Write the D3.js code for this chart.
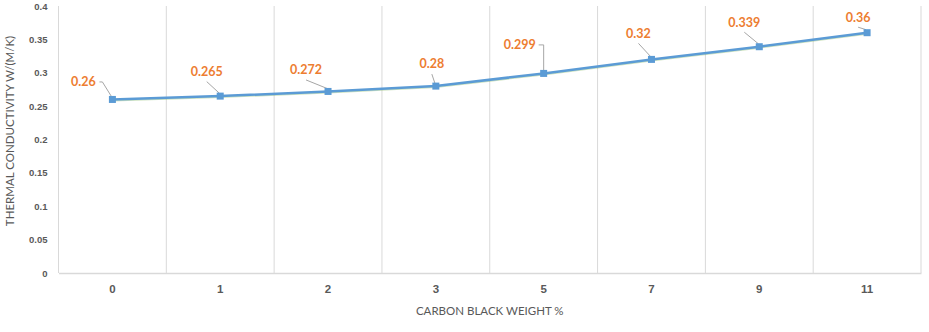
<!DOCTYPE html>
<html>
<head>
<meta charset="utf-8">
<script src="https://cdn.jsdelivr.net/npm/d3@7"></script>
<style>
  html, body { margin: 0; padding: 0; background: #fff; }
  svg { display: block; font-family: Lato, "Open Sans", sans-serif; }
</style>
</head>
<body>
<svg id="chart" width="929" height="332"></svg>
<script>
// Carbon black loading vs. thermal conductivity
const categories = ["0", "1", "2", "3", "5", "7", "9", "11"];
const conductivity = [0.26, 0.265, 0.272, 0.28, 0.299, 0.32, 0.339, 0.36];
const yTicks = [0, 0.05, 0.1, 0.15, 0.2, 0.25, 0.3, 0.35, 0.4];

// Data-label placement relative to each point (dx, dy of label centre)
const labelOffsets = [[-29, -17.5], [-13.5, -24.5], [-22, -21.5], [-4, -22], [-24, -28.5], [-13, -26], [-15, -24.5], [-9, -15.5]];

const width = 929, height = 332;
const margin = { left: 58.5, right: 8, top: 6, bottom: 59 };

const svg = d3.select("#chart");

const x = d3.scaleBand()
  .domain(categories)
  .range([margin.left, width - margin.right]);

const y = d3.scaleLinear()
  .domain([0, 0.4])
  .range([height - margin.bottom, margin.top]);

const grid = "#d9d9d9";
const textCol = "#595959";

// Vertical gridlines at category boundaries
const bounds = categories.map(c => x(c)).concat([x(categories[categories.length - 1]) + x.bandwidth()]);
svg.append("g").selectAll("line")
  .data(bounds)
  .join("line")
  .attr("x1", d => d).attr("x2", d => d)
  .attr("y1", y(0.4)).attr("y2", y(0))
  .attr("stroke", grid).attr("stroke-width", 1);

// Y axis
const yAxis = svg.append("g")
  .attr("transform", `translate(${margin.left - 11},0)`)
  .call(d3.axisLeft(y).tickValues(yTicks).tickSize(0).tickPadding(0).tickFormat(d => String(+d.toFixed(2))));
yAxis.select(".domain").remove();
yAxis.selectAll("text")
  .attr("fill", textCol)
  .attr("font-size", 9.5)
  .attr("font-weight", "bold");

// X axis
const xAxis = svg.append("g")
  .attr("transform", `translate(0,${y(0)})`)
  .call(d3.axisBottom(x).tickSize(0).tickPadding(12));
xAxis.select(".domain").attr("stroke", grid).attr("stroke-width", 1.3);
xAxis.selectAll("text")
  .attr("fill", textCol)
  .attr("font-size", 11.5)
  .attr("font-weight", "bold");

// Axis titles
svg.append("text")
  .attr("x", x.range()[0] + (x.range()[1] - x.range()[0]) / 2)
  .attr("y", 315)
  .attr("text-anchor", "middle")
  .attr("fill", textCol)
  .attr("font-size", 11.5)
  .text("CARBON BLACK WEIGHT %");

svg.append("text")
  .attr("transform", `translate(14,${131}) rotate(-90)`)
  .attr("text-anchor", "middle")
  .attr("fill", textCol)
  .attr("font-size", 11.5)
  .text("THERMAL CONDUCTIVITY W/(M/K)");

const px = (i) => x(categories[i]) + x.bandwidth() / 2;
const py = (i) => y(conductivity[i]);

// Series line
const line = d3.line()
  .x((d, i) => px(i))
  .y((d, i) => py(i));

svg.append("path")
  .datum(conductivity)
  .attr("d", line)
  .attr("fill", "none")
  .attr("stroke", "#70ad47")
  .attr("stroke-opacity", 0.35)
  .attr("stroke-width", 2)
  .attr("transform", "translate(0,1)");

svg.append("path")
  .datum(conductivity)
  .attr("d", line)
  .attr("fill", "none")
  .attr("stroke", "#5b9bd5")
  .attr("stroke-width", 2.5)
  .attr("stroke-linejoin", "round");

// Leader lines from labels to points
svg.append("g").selectAll("path")
  .data(conductivity)
  .join("path")
  .attr("d", (d, i) => {
    const [dx, dy] = labelOffsets[i];
    const lx = px(i) + dx, ly = py(i) + dy;
    if (i === 4) {
      // label sits to the side: elbow connector
      return `M${lx + 19},${ly} H${px(i)} V${py(i) - 3}`;
    }
    if (i === 0) {
      return `M${lx + 16},${ly} H${lx + 19} L${px(i) - 1},${py(i) - 3}`;
    }
    return `M${lx},${ly + 10} L${px(i) - 1},${py(i) - 3}`;
  })
  .attr("fill", "none")
  .attr("stroke", "#a6a6a6")
  .attr("stroke-width", 1);

// Markers
svg.append("g").selectAll("rect")
  .data(conductivity)
  .join("rect")
  .attr("x", (d, i) => px(i) - 3.5)
  .attr("y", (d, i) => py(i) - 3.5)
  .attr("width", 7).attr("height", 7)
  .attr("fill", "#5b9bd5");

// Data labels
svg.append("g").selectAll("text")
  .data(conductivity)
  .join("text")
  .attr("x", (d, i) => px(i) + labelOffsets[i][0])
  .attr("y", (d, i) => py(i) + labelOffsets[i][1])
  .attr("dy", "0.35em")
  .attr("text-anchor", "middle")
  .attr("fill", "#ed7d31")
  .attr("font-size", 12.5)
  .attr("font-weight", "bold")
  .text(d => String(d));
</script>
</body>
</html>
